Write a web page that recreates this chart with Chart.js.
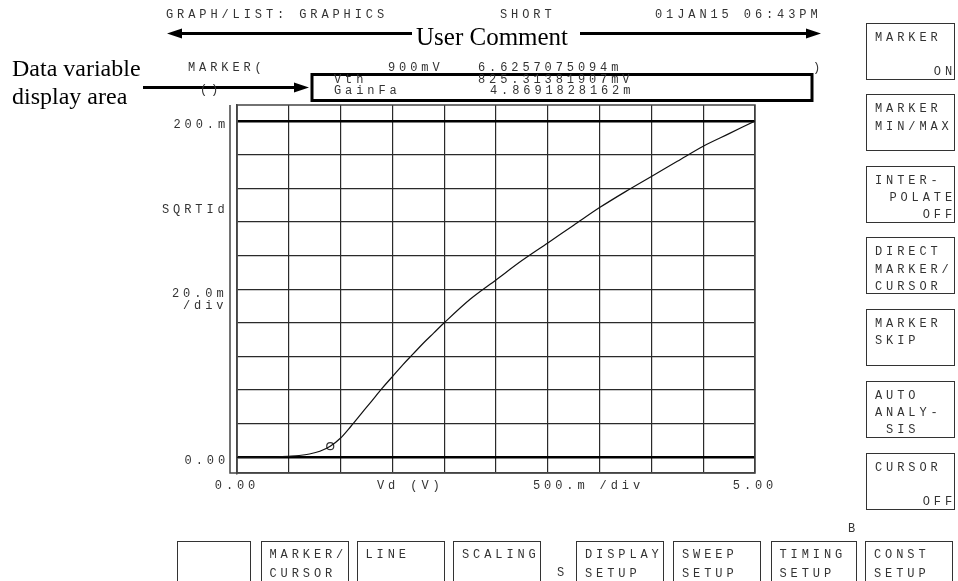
<!DOCTYPE html>
<html>
<head>
<meta charset="utf-8">
<script src="https://cdn.jsdelivr.net/npm/chart.js@4.4.1/dist/chart.umd.min.js"></script>
<style>
  body { margin: 0; background: #fff; }
  #screen { position: relative; width: 958px; height: 581px; overflow: hidden; background: #fff; }
  #plot { position: absolute; left: 0; top: 0; }
  #lines { position: absolute; left: 0; top: 0; }
  .m { position: absolute; font: 12px "Liberation Mono", monospace; letter-spacing: 3.9px; line-height: 12px; color: #333; white-space: pre; }
  .serif { position: absolute; font-family: "Liberation Serif", "Times New Roman", serif; color: #000; white-space: pre; }
  .key { position: absolute; border: 1px solid #333; box-sizing: border-box; background: #fff; }
</style>
</head>
<body>
<div id="screen">
  <canvas id="plot" width="958" height="581"></canvas>

  <svg id="lines" width="958" height="581">
    <!-- user comment arrows -->
    <line x1="180" y1="33.5" x2="412" y2="33.5" stroke="#000" stroke-width="3"/>
    <polygon points="167,33.5 182,28.5 182,38.5" fill="#000"/>
    <line x1="580" y1="33.5" x2="808" y2="33.5" stroke="#000" stroke-width="3"/>
    <polygon points="821,33.5 806,28.5 806,38.5" fill="#000"/>
    <!-- data variable arrow + box -->
    <line x1="143" y1="87.5" x2="296" y2="87.5" stroke="#000" stroke-width="3"/>
    <polygon points="309,87.5 294,82.5 294,92.5" fill="#000"/>
    <rect x="312" y="74.5" width="500" height="26" fill="none" stroke="#000" stroke-width="3"/>
  </svg>

  <div class="serif" style="left:416px;top:24px;font-size:25px;line-height:25px;">User Comment</div>
  <div class="serif" style="left:12px;top:56px;font-size:24px;line-height:24px;">Data variable</div>
  <div class="serif" style="left:12px;top:84px;font-size:24px;line-height:24px;">display area</div>

  <div class="m" style="left:166px;top:9px;">GRAPH/LIST: GRAPHICS</div>
  <div class="m" style="left:500px;top:9px;">SHORT</div>
  <div class="m" style="left:655px;top:9px;">01JAN15 06:43PM</div>

  <div class="m" style="left:188px;top:62px;">MARKER(</div>
  <div class="m" style="left:388px;top:62px;">900mV</div>
  <div class="m" style="left:478px;top:62px;">6.6257075094m</div>
  <div class="m" style="left:813px;top:62px;">)</div>
  <div class="m" style="left:200px;top:84px;">()</div>
  <div class="m" style="left:334px;top:74px;">Vth</div>
  <div class="m" style="left:478px;top:74px;">825.31381907mV</div>
  <div class="m" style="left:334px;top:85px;">GainFa</div>
  <div class="m" style="left:490px;top:85px;">4.8691828162m</div>

  <div class="m" style="left:162px;top:204px;">SQRTId</div>
  <div class="m" style="left:172px;top:288px;">20.0m</div>
  <div class="m" style="left:183px;top:300px;">/div</div>
  <div class="m" style="left:377px;top:480px;">Vd (V)</div>
  <div class="m" style="left:533px;top:480px;">500.m /div</div>
  <div class="m" style="left:557px;top:567px;">S</div>
  <div class="m" style="left:848px;top:523px;">B</div>

  <div id="keys"></div>
</div>

<script>
// measured curve: Vd (V) vs SQRT(Id)
const vdValues = [0, 0.1, 0.2, 0.3, 0.4, 0.5, 0.6, 0.7, 0.8, 0.9, 1.0, 1.1, 1.2, 1.3, 1.4, 1.5, 1.6, 1.7, 1.8, 1.9,
                  2.0, 2.25, 2.5, 2.75, 3.0, 3.25, 3.5, 3.75, 4.0, 4.25, 4.5, 4.75, 5.0];
const sqrtIdValues = [0, 0, 0, 0.00005, 0.0002, 0.0006, 0.0011, 0.002, 0.0036, 0.0066, 0.0115, 0.0185, 0.026, 0.0335, 0.041, 0.048, 0.055, 0.0615, 0.068, 0.074,
                      0.080, 0.094, 0.1055, 0.117, 0.1275, 0.138, 0.1485, 0.158, 0.167, 0.176, 0.185, 0.1925, 0.200];

const markerVd = 0.9;
const markerSqrtId = 0.0066257075094;

const xGridValues = [0, 0.5, 1, 1.5, 2, 2.5, 3, 3.5, 4, 4.5, 5];
const xLabelValues = [0, 5];
const xLabelTexts = ['0.00', '5.00'];

const yGridValues = [0, 0.02, 0.04, 0.06, 0.08, 0.1, 0.12, 0.14, 0.16, 0.18, 0.2];
const yLabelValues = [0, 0.2];
const yLabelTexts = ['0.00', '200.m'];
const yBold = [0, 0.2];

// soft keys
const sideKeys = [
  { top: 22.5, rows: [['MARKER', 'l', 0], ['ON', 'r', 2]] },
  { top: 94, rows: [['MARKER', 'l', 0], ['MIN/MAX', 'l', 1]] },
  { top: 165.5, rows: [['INTER-', 'l', 0], ['POLATE', 'r', 1], ['OFF', 'r', 2]] },
  { top: 237, rows: [['DIRECT', 'l', 0], ['MARKER/', 'l', 1], ['CURSOR', 'l', 2]] },
  { top: 308.5, rows: [['MARKER', 'l', 0], ['SKIP', 'l', 1]] },
  { top: 380.5, rows: [['AUTO', 'l', 0], ['ANALY-', 'l', 1], [' SIS', 'l', 2]] },
  { top: 452.5, rows: [['CURSOR', 'l', 0], ['OFF', 'r', 2]] }
];
const bottomKeys = [
  { left: 177, right: 251, rows: [] },
  { left: 260.5, right: 348.5, rows: ['MARKER/', 'CURSOR'] },
  { left: 356.5, right: 445, rows: ['LINE'] },
  { left: 453, right: 541, rows: ['SCALING'] },
  { left: 576, right: 663.5, rows: ['DISPLAY', 'SETUP'] },
  { left: 673, right: 761, rows: ['SWEEP', 'SETUP'] },
  { left: 770.5, right: 857, rows: ['TIMING', 'SETUP'] },
  { left: 865, right: 953, rows: ['CONST', 'SETUP'] }
];

var keysDiv = document.getElementById('keys');
var sideRowY = [13, 30.5, 47.5];
sideKeys.forEach(function (k) {
  var box = document.createElement('div');
  box.className = 'key';
  box.style.cssText = 'left:866px;top:' + k.top + 'px;width:89px;height:57px;';
  k.rows.forEach(function (r) {
    var s = document.createElement('div');
    s.className = 'm';
    s.textContent = r[0];
    s.style.top = (sideRowY[r[2]] - 5) + 'px';
    if (r[1] === 'r') s.style.right = '-2px'; else s.style.left = '8px';
    box.appendChild(s);
  });
  keysDiv.appendChild(box);
});
bottomKeys.forEach(function (k) {
  var box = document.createElement('div');
  box.className = 'key';
  box.style.cssText = 'left:' + k.left + 'px;top:541px;width:' + (k.right - k.left) + 'px;height:50px;';
  k.rows.forEach(function (t, i) {
    var s = document.createElement('div');
    s.className = 'm';
    s.textContent = t;
    s.style.top = (12 + i * 19 - 5) + 'px';
    s.style.left = '8px';
    box.appendChild(s);
  });
  keysDiv.appendChild(box);
});

var framePlugin = {
  id: 'frame',
  beforeDraw: function (chart) {
    chart.ctx.letterSpacing = '3.9px';
  },
  beforeDatasetsDraw: function (chart) {
    var ctx = chart.ctx, a = chart.chartArea;
    ctx.save();
    ctx.strokeStyle = '#444';
    ctx.lineWidth = 1.5;
    ctx.strokeRect(a.left, a.top, a.right - a.left, a.bottom - a.top);
    ctx.beginPath();
    ctx.moveTo(a.left - 7, a.top);
    ctx.lineTo(a.left - 7, a.bottom);
    ctx.lineTo(a.left, a.bottom);
    ctx.stroke();
    ctx.restore();
  }
};

var tickFont = { family: '"Liberation Mono", monospace', size: 12 };

var ctx = document.getElementById('plot');
var chart = new Chart(ctx, {
  type: 'scatter',
  data: {
    datasets: [{
      label: 'SQRTId',
      data: vdValues.map(function (v, i) { return { x: v, y: sqrtIdValues[i] }; }),
      showLine: true,
      borderColor: '#111',
      borderWidth: 1.2,
      pointRadius: 0,
      cubicInterpolationMode: 'monotone'
    }, {
      label: 'marker',
      data: [{ x: markerVd, y: markerSqrtId }],
      showLine: false,
      pointRadius: 3.5,
      pointBorderWidth: 1.2,
      borderColor: '#333',
      backgroundColor: 'rgba(0,0,0,0)'
    }]
  },
  options: {
    responsive: false,
    animation: false,
    devicePixelRatio: 1,
    layout: { padding: { left: 0, right: 203, top: 105, bottom: 78 } },
    plugins: { legend: { display: false }, tooltip: { enabled: false } },
    scales: {
      x: {
        type: 'linear',
        min: 0,
        max: 5,
        afterBuildTicks: function (s) { s.ticks = xGridValues.map(function (v) { return { value: v }; }); },
        afterFit: function (s) { s.height = 30; },
        ticks: {
          autoSkip: false,
          maxRotation: 0,
          padding: 6,
          color: '#333',
          font: tickFont,
          callback: function (v) {
            var i = xLabelValues.indexOf(v);
            return i >= 0 ? xLabelTexts[i] : '';
          }
        },
        grid: { color: '#2a2a2a', lineWidth: 1.2, drawTicks: false },
        border: { display: true, color: '#444', width: 1.5 }
      },
      y: {
        type: 'linear',
        min: -0.0093,
        max: 0.2095,
        afterBuildTicks: function (s) { s.ticks = yGridValues.map(function (v) { return { value: v }; }); },
        afterFit: function (s) { s.width = 237; },
        ticks: {
          autoSkip: false,
          padding: 8,
          labelOffset: 3.5,
          color: '#333',
          font: tickFont,
          callback: function (v) {
            var i = yLabelValues.indexOf(v);
            return i >= 0 ? yLabelTexts[i] : '';
          }
        },
        grid: {
          drawTicks: false,
          color: function (c) { return (c.tick && yBold.indexOf(c.tick.value) >= 0) ? '#000' : '#2a2a2a'; },
          lineWidth: function (c) { return (c.tick && yBold.indexOf(c.tick.value) >= 0) ? 2.5 : 1.2; }
        },
        border: { display: true, color: '#444', width: 1.5 }
      }
    }
  },
  plugins: [framePlugin]
});
</script>
</body>
</html>
